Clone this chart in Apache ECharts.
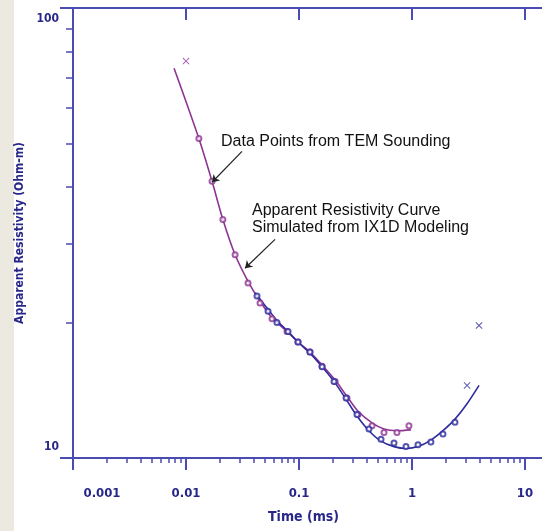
<!DOCTYPE html>
<html>
<head>
<meta charset="utf-8">
<style>
  html, body { margin: 0; padding: 0; background: #ffffff; overflow: hidden; }
  #chart { width: 542px; height: 531px; }
</style>
<script src="https://cdn.jsdelivr.net/npm/echarts@6/dist/echarts.min.js"></script>
</head>
<body>
<div id="chart"></div>
<script>
// early-time sounding (purple)
const earlyTimes = [0.0130, 0.0170, 0.0212, 0.0272, 0.0354, 0.0452, 0.0577, 0.0783, 0.098, 0.125, 0.160, 0.209, 0.266, 0.333, 0.443, 0.565, 0.736, 0.940];
const earlyRho = [51.3, 41.2, 33.9, 28.3, 24.5, 22.1, 20.4, 19.1, 18.1, 17.2, 16.0, 14.8, 13.6, 12.5, 11.8, 11.4, 11.4, 11.8];
const earlyOutTimes = [0.0100];
const earlyOutRho = [76.2];
const earlyCurveTimes = [0.00784, 0.0130, 0.0170, 0.0212, 0.0272, 0.0354, 0.0452, 0.0577, 0.0783, 0.098, 0.125, 0.160, 0.209, 0.266, 0.333, 0.443, 0.565, 0.736, 0.98];
const earlyCurveRho = [73.5, 51.3, 41.2, 33.9, 28.3, 24.7, 22.3, 20.5, 19.1, 18.1, 17.2, 16.1, 14.9, 13.7, 12.7, 11.97, 11.6, 11.5, 11.55];

// late-time sounding (blue)
const lateTimes = [0.0425, 0.0532, 0.0638, 0.080, 0.098, 0.125, 0.160, 0.204, 0.261, 0.326, 0.416, 0.532, 0.693, 0.885, 1.13, 1.47, 1.88, 2.40];
const lateRho = [22.9, 21.2, 20.0, 19.1, 18.1, 17.2, 15.95, 14.8, 13.6, 12.5, 11.6, 11.0, 10.8, 10.6, 10.7, 10.85, 11.3, 12.0];
const lateOutTimes = [3.07, 3.92];
const lateOutRho = [14.5, 19.7];
const lateCurveTimes = [0.0409, 0.0532, 0.0651, 0.080, 0.098, 0.125, 0.160, 0.204, 0.261, 0.326, 0.416, 0.532, 0.693, 0.885, 1.13, 1.47, 1.88, 2.40, 3.07, 3.92];
const lateCurveRho = [23.3, 21.4, 20.1, 19.1, 18.1, 17.1, 15.95, 14.8, 13.5, 12.4, 11.5, 10.9, 10.6, 10.5, 10.6, 10.96, 11.5, 12.2, 13.2, 14.5];

// minor tick values (log cycles)
const xMinorTicks = [0.002, 0.003, 0.004, 0.005, 0.006, 0.007, 0.008, 0.009,
  0.02, 0.03, 0.04, 0.05, 0.06, 0.07, 0.08, 0.09,
  0.2, 0.3, 0.4, 0.5, 0.6, 0.7, 0.8, 0.9,
  2, 3, 4, 5, 6, 7, 8, 9,
  20, 30, 40, 50, 60, 70, 80, 90];
const yMinorTicks = [20, 30, 40, 50, 60, 70, 80, 90];

const purple = '#8e3594';
const blue = '#2c2c9e';
const axisColor = '#4b4bb4';
const labelColor = '#27278a';
const labelFont = "'DejaVu Sans Condensed', 'DejaVu Sans', sans-serif";
const crossSymbol = 'path://M0,1L1,0L5,4L9,0L10,1L6,5L10,9L9,10L5,6L1,10L0,9L4,5Z';

const zip = (xs, ys) => xs.map((x, i) => [x, ys[i]]);

const chart = echarts.init(document.getElementById('chart'));

// the plot runs on past the right edge of the window, as in the source figure
const option = {
  animation: false,
  backgroundColor: '#ffffff',
  grid: { left: 73, top: 8, width: 565, height: 450, outerBoundsMode: 'none', containLabel: false },
  xAxis: [
    {
      type: 'log', min: 0.001, max: 100, interval: 1, logBase: 10,
      position: 'bottom',
      axisLine: { onZero: false, lineStyle: { color: axisColor, width: 2 } },
      axisTick: { length: 12, lineStyle: { color: axisColor, width: 2 } },
      splitLine: { show: false },
      axisLabel: {
        margin: 29,
        color: labelColor, fontWeight: 'bold', fontSize: 13, fontFamily: labelFont,
        formatter: v => v === 0.001 ? '{first|0.001}' : String(v),
        rich: { first: { padding: [0, 0, 0, 58], color: labelColor, fontWeight: 'bold', fontSize: 13, fontFamily: labelFont } }
      }
    },
    {
      type: 'log', min: 0.001, max: 100, interval: 1, logBase: 10,
      position: 'top',
      axisLine: { onZero: false, lineStyle: { color: axisColor, width: 2 } },
      axisTick: { inside: true, length: 12, lineStyle: { color: axisColor, width: 2 } },
      axisLabel: { show: false },
      splitLine: { show: false }
    },
    {
      type: 'value', min: -3, max: 2,
      position: 'bottom',
      axisLine: { show: false, onZero: false },
      axisTick: { length: 5, customValues: xMinorTicks.map(v => Math.log10(v)), lineStyle: { color: axisColor, width: 1.5 } },
      axisLabel: { show: false },
      splitLine: { show: false }
    }
  ],
  yAxis: [
    {
      type: 'log', min: 10, max: 100, interval: 1, logBase: 10,
      position: 'left',
      name: 'Apparent Resistivity (Ohm-m)',
      nameLocation: 'middle',
      nameGap: 43,
      nameTextStyle: { color: labelColor, fontWeight: 'bold', fontSize: 12, fontFamily: labelFont },
      axisLine: { onZero: false, lineStyle: { color: axisColor, width: 2 } },
      axisTick: { length: 13, lineStyle: { color: axisColor, width: 2 } },
      splitLine: { show: false },
      axisLabel: {
        margin: 14,
        color: labelColor, fontWeight: 'bold', fontSize: 12, fontFamily: labelFont,
        formatter: v => v === 100 ? '{top|100}' : '{bottom|10}',
        rich: {
          top: { padding: [21, 0, 0, 0], color: labelColor, fontWeight: 'bold', fontSize: 12, fontFamily: labelFont },
          bottom: { padding: [0, 0, 22, 0], color: labelColor, fontWeight: 'bold', fontSize: 12, fontFamily: labelFont }
        }
      }
    },
    {
      type: 'value', min: 1, max: 2,
      position: 'left',
      axisLine: { show: false, onZero: false },
      axisTick: { length: 7, customValues: yMinorTicks.map(v => Math.log10(v)), lineStyle: { color: axisColor, width: 1.5 } },
      axisLabel: { show: false },
      splitLine: { show: false }
    }
  ],
  graphic: [
    { type: 'rect', left: 0, top: 0, z: -10, shape: { width: 14, height: 531 }, style: { fill: '#ebe9e0' } },
    {
      type: 'text', left: 268, top: 510,
      style: { text: 'Time (ms)', fill: labelColor, font: "bold 14px 'DejaVu Sans Condensed', sans-serif" }
    },
    {
      type: 'text', left: 221, top: 134,
      style: { text: 'Data Points from TEM Sounding', fill: '#111111', font: "16px 'Liberation Sans', Arial, sans-serif" }
    },
    {
      type: 'text', left: 252, top: 202,
      style: { text: 'Apparent Resistivity Curve\nSimulated from IX1D Modeling', fill: '#111111', lineHeight: 17, font: "16px 'Liberation Sans', Arial, sans-serif" }
    }
  ],
  series: [
    {
      name: 'Early curve', type: 'line', smooth: 0.3, showSymbol: false,
      data: zip(earlyCurveTimes, earlyCurveRho),
      lineStyle: { color: purple, width: 1.6 }, z: 2,
      markLine: {
        silent: true, symbol: ['none', 'arrow'], symbolSize: 7,
        lineStyle: { color: '#222222', width: 1.2, type: 'solid' },
        label: { show: false },
        data: [
          [{ coord: [0.0313, 48.0] }, { coord: [0.0170, 41.0] }],
          [{ coord: [0.0614, 30.6] }, { coord: [0.0333, 26.4] }]
        ]
      }
    },
    {
      name: 'Late curve', type: 'line', smooth: 0.3, showSymbol: false,
      data: zip(lateCurveTimes, lateCurveRho),
      lineStyle: { color: blue, width: 1.6 }, z: 3
    },
    {
      name: 'Early data', type: 'scatter', symbol: 'emptyCircle', symbolSize: 5,
      data: zip(earlyTimes, earlyRho),
      itemStyle: { color: purple, borderColor: purple, borderWidth: 1.3 }, z: 4
    },
    {
      name: 'Late data', type: 'scatter', symbol: 'emptyCircle', symbolSize: 5,
      data: zip(lateTimes, lateRho),
      itemStyle: { color: blue, borderColor: blue, borderWidth: 1.3 }, z: 5
    },
    {
      name: 'Early rejected', type: 'scatter', symbol: crossSymbol, symbolSize: 7,
      data: zip(earlyOutTimes, earlyOutRho),
      itemStyle: { color: purple }, z: 5
    },
    {
      name: 'Late rejected', type: 'scatter', symbol: crossSymbol, symbolSize: 7,
      data: zip(lateOutTimes, lateOutRho),
      itemStyle: { color: blue }, z: 5
    }
  ]
};

chart.setOption(option);
</script>
</body>
</html>
